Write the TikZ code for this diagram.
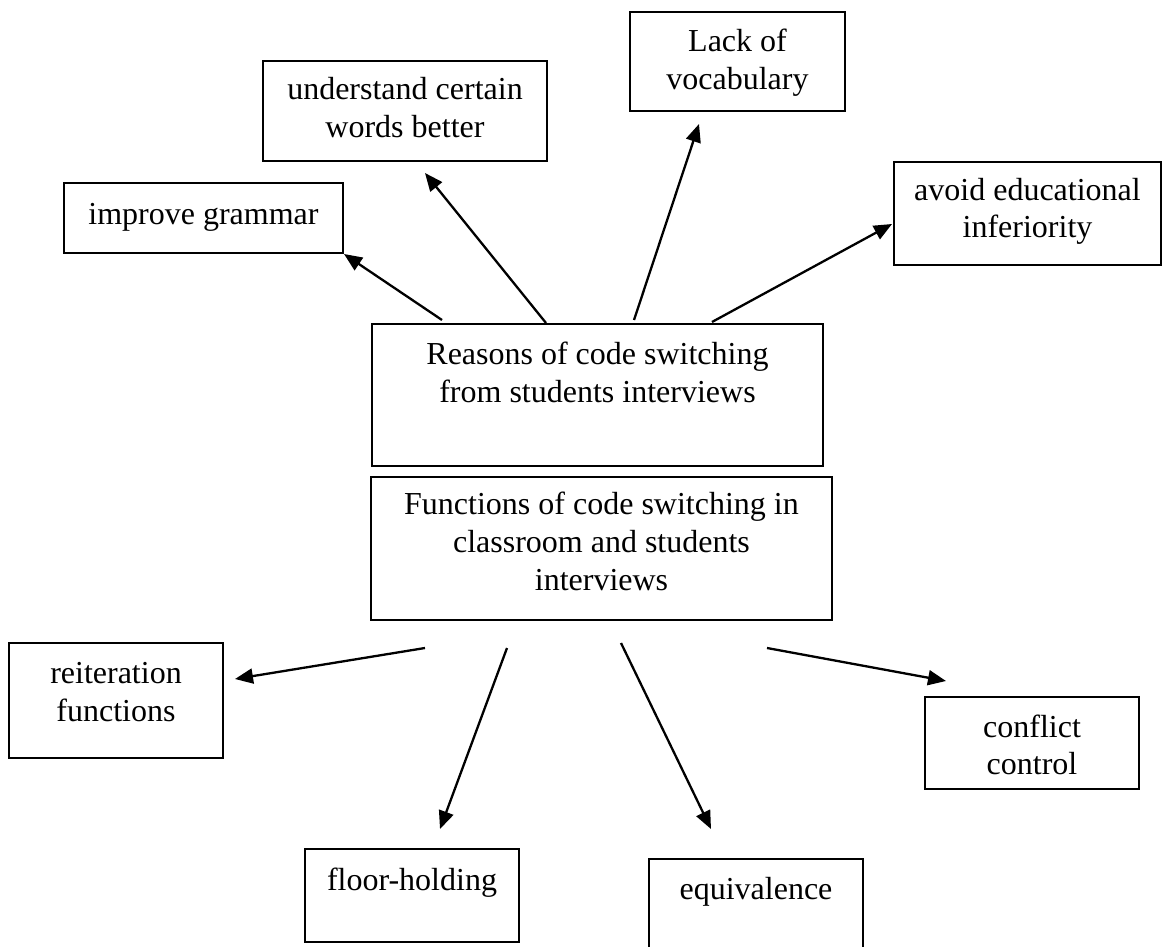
\documentclass[tikz,border=0pt]{standalone}
\usepackage{fontspec}
\setmainfont{Liberation Serif}
\usetikzlibrary{arrows.meta,fit}
\begin{document}
\begin{tikzpicture}[x=0.5pt,y=-0.5pt,
  box/.style={draw, line width=1pt, inner sep=0pt},
  txt/.style={inner sep=0pt, font=\fontsize{16pt}{19pt}\selectfont},
  arr/.style={line width=1.15pt, -{Triangle[length=9pt,width=7.5pt]}}]
\useasboundingbox (0,0) rectangle (1163,947);
% boxes
\node[box, fit={(64,183)(343,253)}] (grammar) {};
\node[box, fit={(263,61)(547,161)}] (understand) {};
\node[box, fit={(630,12)(845,111)}] (lack) {};
\node[box, fit={(894,162)(1161,265)}] (avoid) {};
\node[box, fit={(372,324)(823,466)}] (reasons) {};
\node[box, fit={(371,477)(832,620)}] (functions) {};
\node[box, fit={(9,643)(223,758)}] (reiteration) {};
\node[box, fit={(925,697)(1139,789)}] (conflict) {};
\node[box, fit={(305,849)(519,942)}] (floor) {};
\node[box, fit={(649,859)(863,952)}] (equivalence) {};
% texts
\node[txt, anchor=base] (tg) at (203.5,225) {improve grammar};
\node[txt, anchor=base] (tu1) at (405,100) {understand certain};
\node[txt, anchor=base] (tu2) at (405,138) {words better};
\node[txt, anchor=base] (tl1) at (737.5,52) {Lack of};
\node[txt, anchor=base] (tl2) at (737.5,90) {vocabulary};
\node[txt, anchor=base] (ta1) at (1027.5,200) {avoid educational};
\node[txt, anchor=base] (ta2) at (1027.5,237) {inferiority};
\node[txt, anchor=base] (tr1) at (597.5,364) {Reasons of code switching};
\node[txt, anchor=base] (tr2) at (597.5,402) {from students interviews};
\node[txt, anchor=base] (tf1) at (601.5,514) {Functions of code switching in};
\node[txt, anchor=base] (tf2) at (601.5,552) {classroom and students};
\node[txt, anchor=base] (tf3) at (601.5,590) {interviews};
\node[txt, anchor=base] (ti1) at (116,683) {reiteration};
\node[txt, anchor=base] (ti2) at (116,721) {functions};
\node[txt, anchor=base] (tc1) at (1032,737) {conflict};
\node[txt, anchor=base] (tc2) at (1032,774) {control};
\node[txt, anchor=base] (tfl) at (412,890) {floor-holding};
\node[txt, anchor=base] (teq) at (756,899) {equivalence};
% arrow end points
\coordinate (s1) at (442,320); \coordinate (e1) at (344,254);
\coordinate (s2) at (546,323); \coordinate (e2) at (425,173);
\coordinate (s3) at (634,320); \coordinate (e3) at (699,124);
\coordinate (s4) at (712,322); \coordinate (e4) at (892,224);
\coordinate (s5) at (425,648); \coordinate (e5) at (235,679);
\coordinate (s6) at (507,648); \coordinate (e6) at (440,829);
\coordinate (s7) at (621,643); \coordinate (e7) at (711,829);
\coordinate (s8) at (767,648); \coordinate (e8) at (946,681);
\draw[arr] (s1) -- (e1);
\draw[arr] (s2) -- (e2);
\draw[arr] (s3) -- (e3);
\draw[arr] (s4) -- (e4);
\draw[arr] (s5) -- (e5);
\draw[arr] (s6) -- (e6);
\draw[arr] (s7) -- (e7);
\draw[arr] (s8) -- (e8);
\end{tikzpicture}
\end{document}
